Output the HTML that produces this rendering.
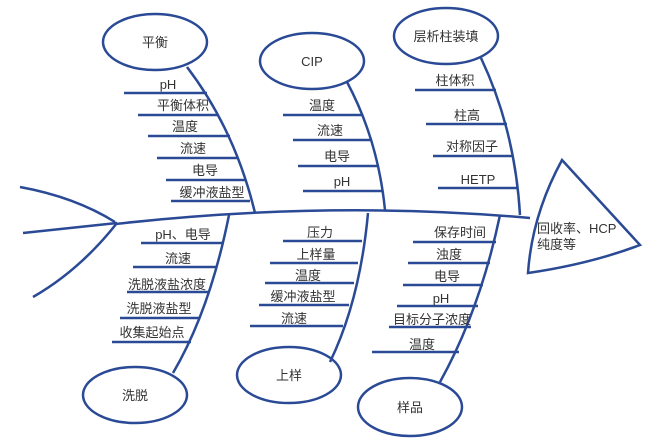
<!DOCTYPE html>
<html><head><meta charset="utf-8"><style>
html,body{margin:0;padding:0;background:#fff;}
svg{display:block;}
text{font-family:"Liberation Sans","Noto Sans CJK SC",sans-serif;font-size:13px;fill:#333;text-anchor:middle;}
</style></head><body>
<svg width="650" height="440" viewBox="0 0 650 440" xmlns="http://www.w3.org/2000/svg">
<g fill="none" stroke="#2a4a96" stroke-width="2.5">
<path d="M115 224 Q330 200 530 218"/>
<path d="M20 187 Q75 197 115 222"/>
<path d="M23 233 L117 223"/>
<path d="M33 297 Q80 270 117 223"/>
<path d="M562 160 L640 245 Q590 264 528 273 Q532 215 562 160 Z" fill="#fff"/>
<ellipse cx="155" cy="42" rx="52" ry="28"/>
<ellipse cx="312" cy="61" rx="52" ry="28"/>
<ellipse cx="446" cy="36" rx="52" ry="28"/>
<ellipse cx="135" cy="395" rx="52" ry="28"/>
<ellipse cx="289" cy="375" rx="52" ry="28"/>
<ellipse cx="410" cy="407" rx="52" ry="29"/>
<path d="M187 67 Q235 130 255 213"/>
<path d="M347 82 Q378 140 385 210"/>
<path d="M481 58 Q515 130 520 215"/>
<path d="M229 215 Q210 310 173 373"/>
<path d="M368 213 Q360 300 330 362"/>
<path d="M500 215 Q480 310 440 382"/>
<path d="M124 93H207M138 115H218M148 136H230M157 158H238M166 180H245M171 201H250"/>
<path d="M283 115H362M293 140H370M298 166H377M303 191H383"/>
<path d="M415 90H496M426 124H507M433 156H512M438 188H518"/>
<path d="M141 243H222M133 267H216M127 292H209M120 318H200M112 342H191"/>
<path d="M283 241H362M270 263H358M265 283H354M259 305H349M250 326H343"/>
<path d="M413 242H496M408 263H490M403 285H483M397 306H478M389 327H471M372 352H459"/>
</g>
<text x="155" y="47">平衡</text>
<text x="312" y="66">CIP</text>
<text x="446" y="41">层析柱装填</text>
<text x="135" y="400">洗脱</text>
<text x="289" y="380">上样</text>
<text x="410" y="412">样品</text>
<text x="168" y="89">pH</text>
<text x="183" y="110">平衡体积</text>
<text x="185" y="131">温度</text>
<text x="193" y="153">流速</text>
<text x="205" y="175">电导</text>
<text x="212" y="197">缓冲液盐型</text>
<text x="322" y="110">温度</text>
<text x="330" y="135">流速</text>
<text x="337" y="161">电导</text>
<text x="342" y="186">pH</text>
<text x="455" y="85">柱体积</text>
<text x="467" y="120">柱高</text>
<text x="472" y="151">对称因子</text>
<text x="478" y="184">HETP</text>
<text x="183" y="239">pH、电导</text>
<text x="178" y="263">流速</text>
<text x="167" y="289">洗脱液盐浓度</text>
<text x="159" y="313">洗脱液盐型</text>
<text x="152" y="337">收集起始点</text>
<text x="320" y="237">压力</text>
<text x="316" y="259">上样量</text>
<text x="308" y="280">温度</text>
<text x="303" y="301">缓冲液盐型</text>
<text x="294" y="323">流速</text>
<text x="460" y="237">保存时间</text>
<text x="449" y="259">浊度</text>
<text x="447" y="281">电导</text>
<text x="441" y="303">pH</text>
<text x="432" y="324">目标分子浓度</text>
<text x="422" y="349">温度</text>
<text x="537" y="233" style="text-anchor:start">回收率、HCP</text>
<text x="537" y="249" style="text-anchor:start">纯度等</text>
</svg>
</body></html>
